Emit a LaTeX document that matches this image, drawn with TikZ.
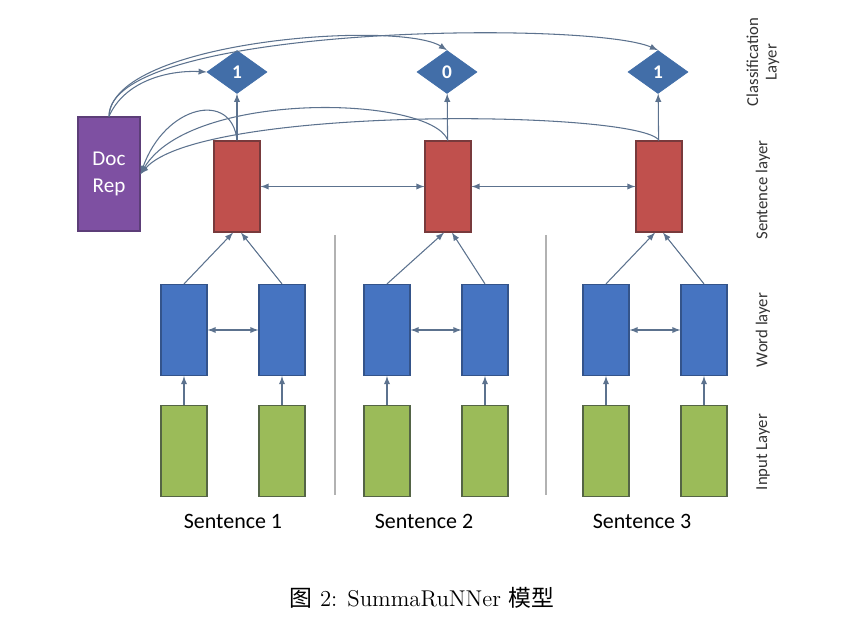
\documentclass[tikz,border=0pt]{standalone}
\usepackage{fontspec}
\setsansfont{Carlito}
\newfontfamily\cjkfont{Noto Sans CJK SC}
\usepackage{tikz}
\usetikzlibrary{shapes,arrows,positioning}
\definecolor{docpurple}{RGB}{126,80,162}
\definecolor{docline}{RGB}{92,62,120}
\definecolor{sentred}{RGB}{192,80,77}
\definecolor{sentline}{RGB}{120,58,60}
\definecolor{wordblue}{RGB}{70,116,193}
\definecolor{wordline}{RGB}{52,84,138}
\definecolor{inputgreen}{RGB}{155,187,89}
\definecolor{inputline}{RGB}{84,100,70}
\definecolor{classblue}{RGB}{66,110,168}
\definecolor{linkgray}{RGB}{92,114,142}

\begin{document}
\begin{tikzpicture}[
    x=0.02cm, y=-0.02cm,
    cell/.style={draw, rectangle, minimum width=0.92cm, minimum height=1.82cm, inner sep=0pt, line width=0.7pt},
    sentbox/.style={cell, fill=sentred, draw=sentline},
    wordbox/.style={cell, fill=wordblue, draw=wordline},
    inputbox/.style={cell, fill=inputgreen, draw=inputline},
    docbox/.style={draw=docline, fill=docpurple, line width=0.7pt, minimum width=1.24cm, minimum height=2.28cm, align=center, text=white, font=\sffamily\fontsize{12}{15}\selectfont},
    classbox/.style={shape=diamond, aspect=1.4, draw=classblue, fill=classblue, minimum width=1.2cm, minimum height=0.86cm, inner sep=0pt, text=white, font=\sffamily\bfseries\fontsize{11}{13}\selectfont},
    link/.style={draw=linkgray, line width=0.6pt, -latex},
    both/.style={draw=linkgray, line width=0.6pt, latex-latex},
    sep/.style={draw=black!30, line width=0.6pt},
    sentlabel/.style={font=\sffamily\fontsize{12.5}{15}\selectfont},
    layerlabel/.style={rotate=90, align=center, text=black!80, font=\sffamily\fontsize{9.5}{10.5}\selectfont}
]
    \useasboundingbox (0,0) rectangle (856,628);

    % sentence layer and classification layer
    \node[docbox] (doc) at (109,174) {Doc\\Rep};
    \node[sentbox] (s1) at (237,186.5) {};
    \node[sentbox] (s2) at (448,186.5) {};
    \node[sentbox] (s3) at (659,186.5) {};
    \node[classbox] (c1) at (237,72) {1};
    \node[classbox] (c2) at (447,72) {0};
    \node[classbox] (c3) at (658,72) {1};

    % word layer and input layer
    \node[wordbox] (w11) at (184,330) {};
    \node[wordbox] (w12) at (282,330) {};
    \node[wordbox] (w21) at (387,330) {};
    \node[wordbox] (w22) at (485,330) {};
    \node[wordbox] (w31) at (606,330) {};
    \node[wordbox] (w32) at (704,330) {};
    \node[inputbox, below=0.58cm of w11] (in11) {};
    \node[inputbox, below=0.58cm of w12] (in12) {};
    \node[inputbox, below=0.58cm of w21] (in21) {};
    \node[inputbox, below=0.58cm of w22] (in22) {};
    \node[inputbox, below=0.58cm of w31] (in31) {};
    \node[inputbox, below=0.58cm of w32] (in32) {};

    \node[sentlabel] (t1) at (233,521) {Sentence 1};
    \node[sentlabel] (t2) at (424,521) {Sentence 2};
    \node[sentlabel] (t3) at (642,521) {Sentence 3};

    \coordinate (sepa1) at (335,235);
    \coordinate (sepa2) at (335,495);
    \coordinate (sepb1) at (546,235);
    \coordinate (sepb2) at (546,495);
    \draw[sep] (sepa1) -- (sepa2);
    \draw[sep] (sepb1) -- (sepb2);

    % connections inside each sentence
    \draw[link] (in11) -- (w11);
    \draw[link] (in12) -- (w12);
    \draw[link] (in21) -- (w21);
    \draw[link] (in22) -- (w22);
    \draw[link] (in31) -- (w31);
    \draw[link] (in32) -- (w32);
    \draw[both] (w11) -- (w12);
    \draw[both] (w21) -- (w22);
    \draw[both] (w31) -- (w32);
    \draw[link] (w11.north) -- ([xshift=-0.08cm]s1.south);
    \draw[link] (w12.north) -- ([xshift=0.08cm]s1.south);
    \draw[link] (w21.north) -- ([xshift=-0.08cm]s2.south);
    \draw[link] (w22.north) -- ([xshift=0.08cm]s2.south);
    \draw[link] (w31.north) -- ([xshift=-0.08cm]s3.south);
    \draw[link] (w32.north) -- ([xshift=0.08cm]s3.south);

    \draw[both] (s1) -- (s2);
    \draw[both] (s2) -- (s3);
    \draw[link] (s1) -- (c1);
    \draw[link] (s2) -- (c2);
    \draw[link] (s3) -- (c3);

    % sentences back to the document representation
    \draw[link] (s1.north) .. controls (232,90) and (165,105) .. (doc.east);
    \draw[link] (s2.north) .. controls (430,95) and (190,90) .. (doc.east);
    \draw[link] (s3.north) .. controls (640,110) and (200,105) .. (doc.east);

    % document representation to the classifiers
    \draw[link] (doc.north) .. controls (125,80) and (170,70) .. (c1.west);
    \draw[link] (doc.north) .. controls (112,40) and (400,20) .. (c2.north);
    \draw[link] (doc.north) .. controls (108,25) and (590,20) .. (c3.north);

    \node[layerlabel] (l1) at (763,62) {Classification\\Layer};
    \node[layerlabel] (l2) at (763,190) {Sentence layer};
    \node[layerlabel] (l3) at (763,330) {Word layer};
    \node[layerlabel] (l4) at (763,452) {Input Layer};

    \node[font=\fontsize{13}{15}\selectfont] (cap) at (422,598) {{\cjkfont 图} 2: SummaRuNNer {\cjkfont 模型}};
\end{tikzpicture}
\end{document}
